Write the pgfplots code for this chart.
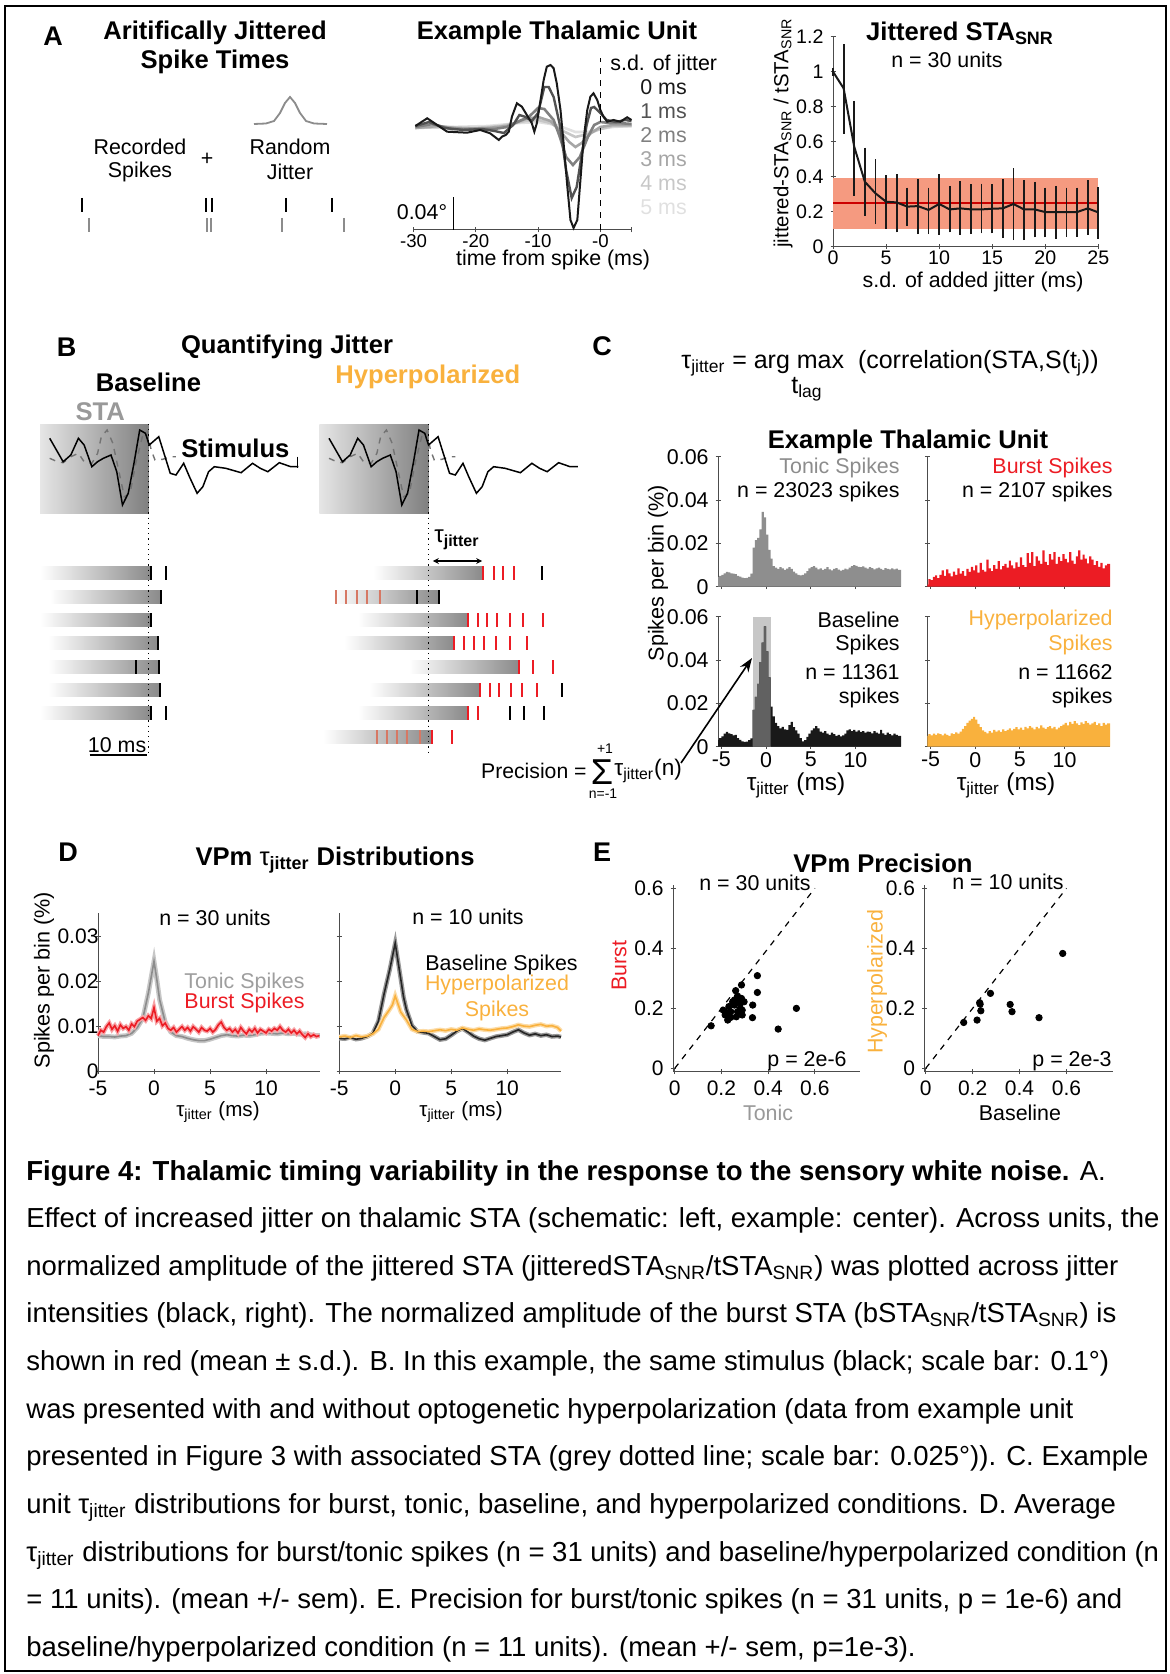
\documentclass[border=0pt]{standalone}
\usepackage{fontspec}
\setmainfont{Liberation Sans}
\usepackage{pgfplots}
\pgfplotsset{compat=1.18}
\usepackage{pgfplotstable}
\usetikzlibrary{arrows.meta}

\definecolor{burst}{HTML}{EC1C24}
\definecolor{hyper}{HTML}{F9B13D}
\definecolor{tonic}{HTML}{8E8E8E}
\definecolor{salmon}{HTML}{F59A80}
\definecolor{barg}{HTML}{8A8A8A}
\definecolor{fadered}{HTML}{D67864}
\newcommand\fs[1]{\fontsize{#1}{#1}\selectfont}

\pgfplotsset{
  base/.style={scale only axis, anchor=south west, clip=false,
    axis line style={-, draw=black!70, line width=0.5pt},
    tick style={draw=black!70, line width=0.5pt},
    major tick length=2.5pt, tick align=inside,
    ticklabel style={font=\fs{10.5}},
    /pgf/number format/assume math mode=true, scaled ticks=false},
  hist/.style={base, axis lines=left, axis line style={-}, clip=true,
    width=91.4pt, height=65pt, xmin=-5.35, xmax=15.1, ymin=0, ymax=0.06,
    ticklabel style={font=\fs{10.7}}, xticklabel style={yshift=2pt},
    xtick={-5,0,5,10}, ytick={0,0.02,0.04,0.06}},
  dist/.style={base, axis lines=left, axis line style={-},
    width=111pt, height=79.35pt, xmin=-5, xmax=14.82, ymin=0, ymax=0.0352,
    yticklabel style={xshift=5pt},
    xtick={-5,0,5,10}, xticklabels={-5,0,5,10}, ytick={0,0.01,0.02,0.03}},
  prec/.style={base, axis lines=left, axis line style={-},
    height=93.35pt, ymin=-0.011, ymax=0.611,
    xtick={0,0.2,0.4,0.6}, xticklabels={0,0.2,0.4,0.6},
    ytick={0,0.2,0.4,0.6}, yticklabels={0,0.2,0.4,0.6}},
}

% panel C histograms, 0.25 ms bins (left edges)
\pgfplotstableread{
x y
-5.5 .0045
-5.25 .0050
-5.0 .0055
-4.75 .0062
-4.5 .0068
-4.25 .0066
-4.0 .0062
-3.75 .0060
-3.5 .0058
-3.25 .0050
-3.0 .0046
-2.75 .0042
-2.5 .0040
-2.25 .0041
-2.0 .0045
-1.75 .0060
-1.5 .0180
-1.25 .0215
-1.0 .0225
-0.75 .0265
-0.5 .0345
-0.25 .0320
0.0 .0240
0.25 .0170
0.5 .0130
0.75 .0095
1.0 .0088
1.25 .0082
1.5 .0090
1.75 .0085
2.0 .0078
2.25 .0084
2.5 .0090
2.75 .0082
3.0 .0070
3.25 .0062
3.5 .0055
3.75 .0052
4.0 .0055
4.25 .0062
4.5 .0072
4.75 .0085
5.0 .0090
5.25 .0095
5.5 .0088
5.75 .0080
6.0 .0085
6.25 .0078
6.5 .0082
6.75 .0090
7.0 .0080
7.25 .0075
7.5 .0082
7.75 .0086
8.0 .0079
8.25 .0074
8.5 .0078
8.75 .0084
9.0 .0080
9.25 .0088
9.5 .0095
9.75 .0100
10.0 .0096
10.25 .0092
10.5 .0090
10.75 .0094
11.0 .0088
11.25 .0084
11.5 .0090
11.75 .0086
12.0 .0080
12.25 .0085
12.5 .0088
12.75 .0082
13.0 .0078
13.25 .0086
13.5 .0082
13.75 .0080
14.0 .0085
14.25 .0080
14.5 .0083
14.75 .0078
15.0 .0078
15.25 .0078
}\tonichist
\pgfplotstableread{
x y
-5.5 .0010
-5.25 .0035
-5.0 .0030
-4.75 .0045
-4.5 .0052
-4.25 .0040
-4.0 .0055
-3.75 .0075
-3.5 .0050
-3.25 .0080
-3.0 .0062
-2.75 .0048
-2.5 .0070
-2.25 .0055
-2.0 .0085
-1.75 .0060
-1.5 .0072
-1.25 .0050
-1.0 .0082
-0.75 .0068
-0.5 .0092
-0.25 .0075
0.0 .0098
0.25 .0065
0.5 .0110
0.75 .0078
1.0 .0070
1.25 .0125
1.5 .0085
1.75 .0072
2.0 .0100
2.25 .0082
2.5 .0118
2.75 .0080
3.0 .0095
3.25 .0105
3.5 .0088
3.75 .0120
4.0 .0098
4.25 .0085
4.5 .0112
4.75 .0092
5.0 .0135
5.25 .0100
5.5 .0090
5.75 .0155
6.0 .0110
6.25 .0160
6.5 .0095
6.75 .0140
7.0 .0120
7.25 .0105
7.5 .0168
7.75 .0115
8.0 .0100
8.25 .0150
8.5 .0125
8.75 .0160
9.0 .0105
9.25 .0138
9.5 .0118
9.75 .0150
10.0 .0128
10.25 .0112
10.5 .0160
10.75 .0120
11.0 .0105
11.25 .0140
11.5 .0168
11.75 .0125
12.0 .0148
12.25 .0130
12.5 .0108
12.75 .0140
13.0 .0125
13.25 .0100
13.5 .0118
13.75 .0092
14.0 .0110
14.25 .0085
14.5 .0098
14.75 .0105
15.0 .0105
15.25 .0105
}\bursthist
\pgfplotstableread{
x y
-5.5 .0032
-5.25 .0040
-5.0 .0048
-4.75 .0060
-4.5 .0068
-4.25 .0062
-4.0 .0058
-3.75 .0052
-3.5 .0055
-3.25 .0040
-3.0 .0032
-2.75 .0025
-2.5 .0022
-2.25 .0024
-2.0 .0030
-1.75 .0038
-1.5 .0170
-1.25 .0230
-1.0 .0290
-0.75 .0390
-0.5 .0480
-0.25 .0555
0.0 .0440
0.25 .0320
0.5 .0185
0.75 .0140
1.0 .0110
1.25 .0095
1.5 .0085
1.75 .0092
2.0 .0080
2.25 .0078
2.5 .0100
2.75 .0115
3.0 .0090
3.25 .0075
3.5 .0060
3.75 .0040
4.0 .0025
4.25 .0030
4.5 .0045
4.75 .0060
5.0 .0075
5.25 .0085
5.5 .0095
5.75 .0085
6.0 .0070
6.25 .0065
6.5 .0072
6.75 .0060
7.0 .0055
7.25 .0065
7.5 .0058
7.75 .0050
8.0 .0055
8.25 .0048
8.5 .0052
8.75 .0060
9.0 .0075
9.25 .0080
9.5 .0072
9.75 .0078
10.0 .0070
10.25 .0075
10.5 .0068
10.75 .0072
11.0 .0065
11.25 .0070
11.5 .0068
11.75 .0062
12.0 .0072
12.25 .0065
12.5 .0060
12.75 .0078
13.0 .0062
13.25 .0055
13.5 .0065
13.75 .0058
14.0 .0052
14.25 .0060
14.5 .0055
14.75 .0050
15.0 .0050
15.25 .0050
}\basehist
\pgfplotstableread{
x y
-5.5 .0050
-5.25 .0058
-5.0 .0052
-4.75 .0060
-4.5 .0055
-4.25 .0062
-4.0 .0058
-3.75 .0052
-3.5 .0060
-3.25 .0055
-3.0 .0050
-2.75 .0062
-2.5 .0058
-2.25 .0066
-2.0 .0060
-1.75 .0070
-1.5 .0082
-1.25 .0095
-1.0 .0110
-0.75 .0120
-0.5 .0128
-0.25 .0138
0.0 .0125
0.25 .0105
0.5 .0090
0.75 .0075
1.0 .0068
1.25 .0062
1.5 .0072
1.75 .0065
2.0 .0078
2.25 .0070
2.5 .0075
2.75 .0068
3.0 .0080
3.25 .0072
3.5 .0078
3.75 .0085
4.0 .0075
4.25 .0082
4.5 .0090
4.75 .0080
5.0 .0088
5.25 .0078
5.5 .0092
5.75 .0085
6.0 .0095
6.25 .0088
6.5 .0080
6.75 .0092
7.0 .0085
7.25 .0098
7.5 .0088
7.75 .0082
8.0 .0090
8.25 .0095
8.5 .0085
8.75 .0092
9.0 .0080
9.25 .0088
9.5 .0095
9.75 .0102
10.0 .0110
10.25 .0098
10.5 .0115
10.75 .0105
11.0 .0118
11.25 .0108
11.5 .0100
11.75 .0112
12.0 .0105
12.25 .0118
12.5 .0110
12.75 .0102
13.0 .0108
13.25 .0115
13.5 .0100
13.75 .0108
14.0 .0095
14.25 .0110
14.5 .0102
14.75 .0108
15.0 .0108
15.25 .0108
}\hyperhist

% panel B stimulus and STA traces (panel B units)
\pgfplotstableread{
x y
43.3 438.3
50 451.7
55 461.7
61.7 455
68.3 438.3
73.3 445
80 466.7
85 461.7
90 458.3
96.7 455
101.7 471.7
106.7 505
111.7 493.3
116.7 463.3
121.7 430
126.7 433.3
130 445
133.3 441.7
138.3 436.7
143.3 455
148.3 473.3
153.3 475
160 463.3
165 476.7
171.7 493.3
176.7 486.7
181.7 471.7
186.7 466.7
196.7 468.3
210 472.7
220 463.3
226.7 468.3
233.3 471.7
243.3 462.7
253.3 466.7
260 466.7
}\stim
\pgfplotstableread{
x y
43.3 458.3
50 461.7
55 462.7
61.7 456.7
68.3 453.3
73.3 461.7
80 463.3
85 453.3
88.3 436.7
93.3 430
98.3 443.3
103.3 470
108.3 496.7
113.3 493.3
118.3 463.3
124 436.7
128.3 431.7
131.7 450
135 460
141.7 459.3
148.3 456.7
153.3 456.7
}\sta

\begin{document}
\begin{tikzpicture}[t/.style={inner sep=0pt}]
\begin{scope}[x=0.5pt,y=-0.5pt]
\useasboundingbox (0,0) rectangle (1169,1674);
\draw[line width=1pt] (5,6) rectangle (1166,1671);
\end{scope}
% B: STA windows and trial bars (background shading), panel B units
\begin{scope}[x=0.574pt,y=-0.5pt]
\shade[left color=black!10, right color=black!50] (35,424) rectangle (129.3,513);
\shade[left color=black!10, right color=black!50] (278.3,424) rectangle (373.3,513);
\foreach \xa/\xb/\yr in {35/131.7/573, 43.3/140/597, 35/131.7/620, 41.7/137.3/643, 41.7/138.3/667, 41.7/139/690, 35/131.7/713,
  325/420.7/573, 290/382.7/597, 311.7/407.3/620, 300/395.7/643, 356/452/667, 321.7/417.7/690, 311.7/407.3/713, 281.7/376.7/737}
  {\shade[left color=white, right color=barg] (\xa,\yr-6.5) rectangle (\xb,\yr+6.5);}
\end{scope}

% ---------- A left schematic (page pixels) ----------
\begin{axis}[at={(0pt,-837pt)}, anchor=south west, scale only axis, width=584.5pt, height=837pt,
  xmin=0, xmax=1169, ymin=0, ymax=1674, y dir=reverse, hide axis, clip=false]
\addplot[black!45, line width=0.9pt] coordinates {(254,124)(266,123.5)(274,121)(280,113)(285,103)(290,97)(295,103)(300,113)(306,121)(314,123.5)(327,124)};
\addplot[only marks, mark=|, mark size=3.5pt, mark options={line width=0.9pt, draw=black}] coordinates {(82,205)(206,205)(212,205)(286,205)(332,205)};
\addplot[only marks, mark=|, mark size=3.5pt, mark options={line width=0.9pt, draw=black!45}] coordinates {(89,225)(207,225)(211,225)(282,225)(344,225)};
\end{axis}

% ---------- B schematic (panel B units) ----------
\begin{axis}[at={(0pt,-390pt)}, anchor=south west, scale only axis, width=344.4pt, height=230pt,
  xmin=0, xmax=600, ymin=320, ymax=780, y dir=reverse, hide axis, clip=false]
\addplot[black!55, dashed, line width=0.7pt] table {\sta};
\addplot[black!55, dashed, line width=0.7pt] table[x expr=\thisrow{x}+243.3] {\sta};
\addplot[black, line width=0.75pt] table {\stim};
\addplot[black, line width=0.75pt] table[x expr=\thisrow{x}+243.3] {\stim};
\addplot[black, line width=0.75pt] coordinates {(259.3,456.7)(259.3,468.3)};
\addplot[black, dotted, line width=0.6pt] coordinates {(129.3,424)(129.3,755)};
\addplot[black, dotted, line width=0.6pt] coordinates {(373.3,424)(373.3,755)};
\addplot[black, line width=0.6pt] coordinates {(78,755)(128,755)};
\addplot[only marks, mark=|, mark size=3.3pt, mark options={line width=1pt, draw=black}] coordinates {
 (131.7,573)(144.3,573)(140,597)(131.7,620)(137.3,643)(118.3,667)(138.3,667)(139,690)(131.7,713)(145,713)};
\addplot[only marks, mark=|, mark size=3.3pt, mark options={line width=1pt, draw=burst}] coordinates {
 (420.7,573)(430,573)(438.3,573)(447.7,573)
 (407.3,620)(416,620)(424.3,620)(433.3,620)(444,620)(456,620)(472.7,620)
 (395.7,643)(404,643)(412.7,643)(421.7,643)(432.3,643)(444,643)(459.3,643)
 (452,667)(464.3,667)(482,667)
 (417.7,690)(426.7,690)(435,690)(445,690)(455,690)(467.7,690)
 (407.3,713)(416.7,713)
 (376.7,737)(393.3,737)};
\addplot[only marks, mark=|, mark size=3.3pt, mark options={line width=1pt, draw=fadered}] coordinates {
 (292.3,597)(301.7,597)(310.7,597)(320,597)(330.7,597)
 (328.3,737)(337.3,737)(345.7,737)(354.3,737)(365.7,737)};
\addplot[only marks, mark=|, mark size=3.3pt, mark options={line width=1pt, draw=black}] coordinates {
 (472,573)(363.3,597)(382.7,597)(489.3,690)(444.3,713)(456.7,713)(474,713)};
\end{axis}

% ---------- A middle: example unit ----------
\begin{axis}[base, at={(206.75pt,-115pt)}, width=109pt, height=87.5pt, xmin=-30, xmax=5, ymin=-105, ymax=70,
  axis x line=bottom, axis y line=none, axis line style={-},
  ticklabel style={font=\fs{9.3}}, xticklabel style={yshift=2.5pt},
  xtick={-30,-20,-10,0,5}, xticklabels={-30,-20,-10,-0,}]
\addplot[black!12, line width=1.3pt] coordinates {(-29.7,-2)(-24,-2)(-18,-1)(-13,2)(-10,3)(-7,0)(-4,-7)(-2,-7)(0,-4)(2,-2)(5,-1)};
\addplot[black!22, line width=1.3pt] coordinates {(-29.7,-3)(-25,-2)(-20,-3)(-16,-1)(-12,4)(-10,5)(-8,2)(-6,-6)(-4,-12)(-2,-9)(0,-4)(2,-1)(5,-1)};
\addplot[black!35, line width=1.3pt] coordinates {(-29.7,-3)(-26,-1)(-22,-4)(-18,-3)(-15,-1)(-12,6)(-10,8)(-8,4)(-6.5,-6)(-5,-17)(-4,-22)(-3,-18)(-1.5,-8)(0,-2)(2,0)(5,0)};
\addplot[black!50, line width=1.3pt] coordinates {(-29.7,-2)(-27,1)(-24,-4)(-20,-4)(-17,-4)(-15,-2)(-13,4)(-11.5,8)(-10,17)(-9,16)(-7.5,5)(-6.5,-12)(-5.5,-32)(-4.4,-40)(-3.3,-32)(-2,-12)(-1,0)(0,3)(1.5,2)(3,2)(5,1)};
\addplot[black!68, line width=1.2pt] coordinates {(-29.7,-1)(-27.5,3)(-25,-3)(-22,-5)(-19,-4)(-17,-6)(-15.5,-8)(-14,0)(-13,10)(-12,8)(-11,4)(-10,12)(-9,38)(-8.3,38)(-7.5,28)(-6.5,0)(-5.5,-45)(-4.6,-73)(-3.8,-62)(-3,-30)(-2.2,0)(-1.5,17)(-1,18)(0,12)(1,5)(2.5,3)(4,5)(5,4)};
\addplot[black!90, line width=1pt] coordinates {(-29.7,-1)(-27.8,6.7)(-26.2,0)(-24.6,-6.7)(-21.4,-7.7)(-19.3,-5)(-17.7,-8.3)(-16.3,-15)(-15.8,-11.7)(-15.2,-10)(-14.7,-6.7)(-14.2,8.3)(-13.4,21.7)(-12.6,18.3)(-11.8,10)(-11,1.7)(-10.6,-6.7)(-10.2,1.7)(-9.6,25)(-9.1,45)(-8.6,58.3)(-8,60)(-7.5,56.7)(-7,41.7)(-6.4,15)(-5.9,-18.3)(-5.3,-61.7)(-4.8,-95)(-4.3,-103)(-3.7,-95)(-3.2,-55)(-2.7,-15)(-2.1,15)(-1.6,28.3)(-1.1,31.7)(-0.5,25)(0,15)(0.5,8.3)(1.1,3.3)(2.1,5)(3.2,3.3)(4.3,7.7)(5,5)};
\addplot[black, dashed, line width=0.7pt] coordinates {(0,-105)(0,67)};
\addplot[black, line width=0.7pt] coordinates {(-23.6,-105)(-23.6,-72)};
\end{axis}

% ---------- A right: jittered STA SNR ----------
\begin{axis}[base, at={(416.5pt,-123.35pt)}, width=132.65pt, height=105pt, xmin=0, xmax=25, ymin=0, ymax=1.2,
  axis lines=left, axis line style={-},
  ticklabel style={font=\fs{9.8}}, xticklabel style={yshift=2.5pt},
  xtick={0,5,10,15,20,25}, xticklabels={0,5,10,15,20,25},
  ytick={0,0.2,0.4,0.6,0.8,1,1.2}, yticklabels={0,0.2,0.4,0.6,0.8,1,1.2}]
\addplot[fill=salmon, draw=none] coordinates {(0,0.1)(25,0.1)(25,0.395)(0,0.395)} -- cycle;
\addplot[red!80!black, line width=0.6pt] coordinates {(0,0.25)(25,0.25)};
\addplot[black!90, line width=1pt, error bars/.cd, y dir=both, y explicit,
  error bar style={line width=0.9pt}, error mark options={line width=0.9pt, mark size=2pt}]
  coordinates {
  (0,1.0) += (0,0) -= (0,0)
  (1,0.905) += (0,0.228) -= (0,0.238)
  (2,0.571) += (0,0.239) -= (0,0.257)
  (3,0.371) += (0,0.172) -= (0,0.171)
  (4,0.305) += (0,0.171) -= (0,0.153)
  (5,0.257) += (0,0.128) -= (0,0.133)
  (6,0.253) += (0,0.137) -= (0,0.148)
  (7,0.229) += (0,0.085) -= (0,0.086)
  (8,0.232) += (0,0.130) -= (0,0.137)
  (9,0.210) += (0,0.104) -= (0,0.115)
  (10,0.244) += (0,0.146) -= (0,0.154)
  (11,0.213) += (0,0.111) -= (0,0.108)
  (12,0.219) += (0,0.133) -= (0,0.128)
  (13,0.213) += (0,0.120) -= (0,0.118)
  (14,0.213) += (0,0.124) -= (0,0.114)
  (15,0.217) += (0,0.116) -= (0,0.118)
  (16,0.219) += (0,0.143) -= (0,0.147)
  (17,0.244) += (0,0.181) -= (0,0.183)
  (18,0.213) += (0,0.145) -= (0,0.152)
  (19,0.213) += (0,0.134) -= (0,0.137)
  (20,0.198) += (0,0.116) -= (0,0.122)
  (21,0.198) += (0,0.126) -= (0,0.131)
  (22,0.198) += (0,0.116) -= (0,0.118)
  (23,0.198) += (0,0.116) -= (0,0.118)
  (24,0.219) += (0,0.137) -= (0,0.128)
  (25,0.196) += (0,0.122) -= (0,0.129)
  };
\end{axis}

% ---------- C: example unit histograms ----------
\begin{axis}[hist, at={(359.1pt,-293.35pt)}, xticklabels={}, yticklabels={0,0.02,0.04,0.06}]
\addplot[const plot, fill=tonic, draw=none] table {\tonichist} \closedcycle;
\end{axis}
\begin{axis}[hist, at={(463.7pt,-293.35pt)}, xticklabels={}, yticklabels={}]
\addplot[const plot, fill=burst, draw=none] table {\bursthist} \closedcycle;
\end{axis}
\begin{axis}[hist, at={(359.1pt,-373.35pt)}, xticklabels={-5,0,5,10}, yticklabels={0,0.02,0.04,0.06}]
\addplot[fill=black!22, draw=none] coordinates {(-1.5,0)(-1.5,0.06)(0.5,0.06)(0.5,0)} -- cycle;
\addplot[const plot, fill=black!90, draw=none] table {\basehist} \closedcycle;
\addplot[const plot, fill=black!62, draw=none, restrict x to domain=-1.5:0.5] table {\basehist} \closedcycle;
\end{axis}
\begin{axis}[hist, at={(463.7pt,-373.35pt)}, xticklabels={-5,0,5,10}, yticklabels={}]
\addplot[const plot, fill=hyper, draw=none] table {\hyperhist} \closedcycle;
\end{axis}

% ---------- D: population distributions ----------
\begin{axis}[dist, at={(49pt,-535.85pt)}, yticklabels={0,0.01,0.02,0.03}]
\addplot[black!22, line width=2.4pt] coordinates {(-5,.0080)(-4.5,.0078)(-4,.0078)(-3.5,.0077)(-3,.0079)(-2.5,.0080)(-2,.0085)(-1.5,.0098)(-1,.0118)(-0.5,.0175)(-0.25,.0210)(0,.0245)(0.25,.0205)(0.5,.0160)(1,.0110)(1.5,.0088)(2,.0080)(2.5,.0078)(3,.0074)(3.5,.0071)(4,.0069)(4.5,.0069)(5,.0072)(5.5,.0076)(6,.0080)(6.5,.0082)(7,.0080)(7.5,.0079)(8,.0081)(8.5,.0080)(9,.0082)(9.5,.0085)(10,.0086)(10.5,.0085)(11,.0084)(11.5,.0086)(12,.0084)(12.5,.0085)(13,.0083)(13.5,.0084)(14,.0082)(14.5,.0080)(14.8,.0080)};
\addplot[black!45, line width=0.8pt] coordinates {(-5,.0080)(-4.5,.0078)(-4,.0078)(-3.5,.0077)(-3,.0079)(-2.5,.0080)(-2,.0085)(-1.5,.0098)(-1,.0118)(-0.5,.0175)(-0.25,.0210)(0,.0245)(0.25,.0205)(0.5,.0160)(1,.0110)(1.5,.0088)(2,.0080)(2.5,.0078)(3,.0074)(3.5,.0071)(4,.0069)(4.5,.0069)(5,.0072)(5.5,.0076)(6,.0080)(6.5,.0082)(7,.0080)(7.5,.0079)(8,.0081)(8.5,.0080)(9,.0082)(9.5,.0085)(10,.0086)(10.5,.0085)(11,.0084)(11.5,.0086)(12,.0084)(12.5,.0085)(13,.0083)(13.5,.0084)(14,.0082)(14.5,.0080)(14.8,.0080)};
\addplot[burst!40, line width=2.2pt] coordinates {(-5,.0080)(-4.75,.0092)(-4.5,.0088)(-4.25,.0100)(-4,.0108)(-3.75,.0094)(-3.5,.0102)(-3.25,.0090)(-3,.0104)(-2.75,.0096)(-2.5,.0100)(-2.25,.0092)(-2,.0106)(-1.75,.0100)(-1.5,.0112)(-1.25,.0116)(-1,.0120)(-0.75,.0114)(-0.5,.0124)(-0.25,.0118)(0,.0142)(0.25,.0112)(0.5,.0118)(0.75,.0102)(1,.0108)(1.25,.0096)(1.5,.0092)(1.75,.0098)(2,.0088)(2.25,.0094)(2.5,.0100)(2.75,.0092)(3,.0098)(3.25,.0090)(3.5,.0100)(3.75,.0094)(4,.0088)(4.25,.0098)(4.5,.0092)(4.75,.0090)(5,.0096)(5.25,.0088)(5.5,.0094)(5.75,.0104)(6,.0110)(6.25,.0098)(6.5,.0092)(6.75,.0096)(7,.0088)(7.25,.0094)(7.5,.0086)(7.75,.0098)(8,.0090)(8.25,.0084)(8.5,.0094)(8.75,.0088)(9,.0096)(9.25,.0086)(9.5,.0094)(9.75,.0090)(10,.0086)(10.25,.0094)(10.5,.0090)(10.75,.0096)(11,.0092)(11.25,.0100)(11.5,.0092)(11.75,.0088)(12,.0094)(12.25,.0086)(12.5,.0092)(12.75,.0084)(13,.0090)(13.25,.0082)(13.5,.0076)(13.75,.0084)(14,.0078)(14.25,.0082)(14.5,.0078)(14.75,.0080)};
\addplot[burst, line width=0.8pt] coordinates {(-5,.0080)(-4.75,.0092)(-4.5,.0088)(-4.25,.0100)(-4,.0108)(-3.75,.0094)(-3.5,.0102)(-3.25,.0090)(-3,.0104)(-2.75,.0096)(-2.5,.0100)(-2.25,.0092)(-2,.0106)(-1.75,.0100)(-1.5,.0112)(-1.25,.0116)(-1,.0120)(-0.75,.0114)(-0.5,.0124)(-0.25,.0118)(0,.0142)(0.25,.0112)(0.5,.0118)(0.75,.0102)(1,.0108)(1.25,.0096)(1.5,.0092)(1.75,.0098)(2,.0088)(2.25,.0094)(2.5,.0100)(2.75,.0092)(3,.0098)(3.25,.0090)(3.5,.0100)(3.75,.0094)(4,.0088)(4.25,.0098)(4.5,.0092)(4.75,.0090)(5,.0096)(5.25,.0088)(5.5,.0094)(5.75,.0104)(6,.0110)(6.25,.0098)(6.5,.0092)(6.75,.0096)(7,.0088)(7.25,.0094)(7.5,.0086)(7.75,.0098)(8,.0090)(8.25,.0084)(8.5,.0094)(8.75,.0088)(9,.0096)(9.25,.0086)(9.5,.0094)(9.75,.0090)(10,.0086)(10.25,.0094)(10.5,.0090)(10.75,.0096)(11,.0092)(11.25,.0100)(11.5,.0092)(11.75,.0088)(12,.0094)(12.25,.0086)(12.5,.0092)(12.75,.0084)(13,.0090)(13.25,.0082)(13.5,.0076)(13.75,.0084)(14,.0078)(14.25,.0082)(14.5,.0078)(14.75,.0080)};
\end{axis}
\begin{axis}[dist, at={(169.6pt,-535.85pt)}, yticklabels={}]
\addplot[black!40, line width=2.2pt] coordinates {(-5,.0074)(-4.5,.0073)(-4,.0076)(-3.5,.0072)(-3,.0074)(-2.5,.0078)(-2,.0085)(-1.5,.0112)(-1,.0172)(-0.5,.0225)(-0.25,.0255)(0,.0285)(0.25,.0245)(0.5,.0205)(0.75,.0165)(1,.0138)(1.5,.0102)(2,.0089)(2.5,.0087)(3,.0085)(3.5,.0078)(4,.0071)(4.5,.0073)(5,.0081)(5.5,.0090)(6,.0096)(6.5,.0088)(7,.0079)(7.5,.0073)(8,.0070)(8.5,.0074)(9,.0078)(9.5,.0080)(10,.0082)(10.5,.0088)(11,.0093)(11.5,.0086)(12,.0081)(12.5,.0084)(13,.0080)(13.5,.0082)(14,.0078)(14.5,.0079)(14.8,.0077)};
\addplot[hyper!45, line width=2.2pt] coordinates {(-5,.0077)(-4.5,.0079)(-4,.0076)(-3.5,.0080)(-3,.0077)(-2.5,.0079)(-2,.0084)(-1.5,.0094)(-1,.0120)(-0.5,.0138)(-0.25,.0148)(0,.0168)(0.25,.0150)(0.5,.0132)(1,.0115)(1.5,.0094)(2,.0089)(2.5,.0090)(3,.0089)(3.5,.0091)(4,.0093)(4.5,.0091)(5,.0094)(5.5,.0092)(6,.0097)(6.5,.0094)(7,.0092)(7.5,.0095)(8,.0093)(8.5,.0092)(9,.0094)(9.5,.0096)(10,.0097)(10.5,.0100)(11,.0104)(11.5,.0101)(12,.0100)(12.5,.0103)(13,.0105)(13.5,.0101)(14,.0102)(14.5,.0098)(14.8,.0090)};
\addplot[black!85, line width=0.8pt] coordinates {(-5,.0074)(-4.5,.0073)(-4,.0076)(-3.5,.0072)(-3,.0074)(-2.5,.0078)(-2,.0085)(-1.5,.0112)(-1,.0172)(-0.5,.0225)(-0.25,.0255)(0,.0285)(0.25,.0245)(0.5,.0205)(0.75,.0165)(1,.0138)(1.5,.0102)(2,.0089)(2.5,.0087)(3,.0085)(3.5,.0078)(4,.0071)(4.5,.0073)(5,.0081)(5.5,.0090)(6,.0096)(6.5,.0088)(7,.0079)(7.5,.0073)(8,.0070)(8.5,.0074)(9,.0078)(9.5,.0080)(10,.0082)(10.5,.0088)(11,.0093)(11.5,.0086)(12,.0081)(12.5,.0084)(13,.0080)(13.5,.0082)(14,.0078)(14.5,.0079)(14.8,.0077)};
\addplot[hyper, line width=0.8pt] coordinates {(-5,.0077)(-4.5,.0079)(-4,.0076)(-3.5,.0080)(-3,.0077)(-2.5,.0079)(-2,.0084)(-1.5,.0094)(-1,.0120)(-0.5,.0138)(-0.25,.0148)(0,.0168)(0.25,.0150)(0.5,.0132)(1,.0115)(1.5,.0094)(2,.0089)(2.5,.0090)(3,.0089)(3.5,.0091)(4,.0093)(4.5,.0091)(5,.0094)(5.5,.0092)(6,.0097)(6.5,.0094)(7,.0092)(7.5,.0095)(8,.0093)(8.5,.0092)(9,.0094)(9.5,.0096)(10,.0097)(10.5,.0100)(11,.0104)(11.5,.0101)(12,.0100)(12.5,.0103)(13,.0105)(13.5,.0101)(14,.0102)(14.5,.0098)(14.8,.0090)};
\end{axis}

% ---------- E: precision scatter ----------
\begin{axis}[prec, at={(336.6pt,-535.85pt)}, width=93.35pt, xmin=-0.0064, xmax=0.793]
\addplot[black, dashed, line width=0.6pt] coordinates {(0,0)(0.6,0.6)};
\addplot[only marks, mark=*, mark size=1.6pt, black] coordinates {
 (.156,.142)(.208,.194)(.216,.178)(.227,.161)(.232,.206)(.240,.189)(.248,.222)(.256,.211)(.264,.172)(.240,.170)
 (.221,.186)(.261,.259)(.286,.278)(.273,.228)(.281,.200)(.289,.178)(.286,.233)(.269,.241)(.256,.228)(.281,.217)
 (.289,.194)(.354,.309)(.354,.253)(.334,.211)(.333,.169)(.443,.131)(.521,.200)(.232,.172)(.269,.189)(.297,.222)};
\end{axis}
\begin{axis}[prec, at={(462.25pt,-535.85pt)}, width=94.45pt, xmin=-0.005, xmax=0.8]
\addplot[black, dashed, line width=0.6pt] coordinates {(0,0)(0.6,0.6)};
\addplot[only marks, mark=*, mark size=1.6pt, black] coordinates {
 (.162,.153)(.219,.161)(.232,.214)(.235,.192)(.276,.250)(.360,.213)(.368,.189)(.483,.169)(.584,.383)(.230,.219)};
\end{axis}

% ---------- text: panel B (panel B units) ----------
\begin{scope}[x=0.574pt,y=-0.5pt]
\draw[{Stealth[length=3pt,width=3pt]}-{Stealth[length=3pt,width=3pt]}, line width=0.6pt] (377,561) -- (420,561);
\node[t, font=\fs{13.5}\bfseries] at (58,347) {B};
\node[t, font=\fs{12.8}\bfseries] at (250,347) {Quantifying Jitter};
\node[t, font=\fs{12.8}\bfseries] at (129.3,382) {Baseline};
\node[t, font=\fs{12.8}\bfseries, text=hyper] at (372.7,377) {Hyperpolarized};
\node[t, font=\fs{12.8}\bfseries, text=black!40] at (87.3,412) {STA};
\node[t, font=\fs{12.8}\bfseries] at (205,448) {Stimulus};
\node[t, font=\fs{10.7}] at (102,745) {10 ms};
\node[t, font=\fs{12}, anchor=west] at (378,540) {τ\textsubscript{\textbf{jitter}}};
\end{scope}

\begin{scope}[x=0.5pt,y=-0.5pt]
\draw[-{Stealth[length=7pt,width=5pt]}, line width=0.8pt] (681,763) -- (752,658);
% ---------- text: panel A ----------
\node[t, font=\fs{13.5}\bfseries] at (53,36) {A};
\node[t, font=\fs{12.8}\bfseries] at (215,33) {Aritifically Jittered};
\node[t, font=\fs{12.8}\bfseries] at (215,62) {Spike Times};
\node[t, font=\fs{10.7}] at (140,147) {Recorded};
\node[t, font=\fs{10.7}] at (140,172) {Spikes};
\node[t, font=\fs{10.7}] at (207,159) {+};
\node[t, font=\fs{10.7}] at (290,147) {Random};
\node[t, font=\fs{10.7}] at (290,172) {Jitter};
\node[t, font=\fs{12.8}\bfseries] at (557,33) {Example Thalamic Unit};
\node[t, font=\fs{10.7}, anchor=west] at (610,65) {s.d. of jitter};
\foreach \k/\c in {0/black!90, 1/black!68, 2/black!50, 3/black!35, 4/black!22, 5/black!12}
  {\node[t, font=\fs{10.7}, anchor=west, text=\c] at (640,87+24*\k) {\k\ ms};}
\node[t, font=\fs{10.7}] at (422,212) {0.04°};
\node[t, font=\fs{10.7}] at (553,260) {time from spike (ms)};
\node[t, font=\fs{12.8}\bfseries] at (960,33) {Jittered STA\textsubscript{SNR}};
\node[t, font=\fs{10.7}] at (947,60) {n = 30 units};
\node[t, font=\fs{10.2}, rotate=90] at (783,133) {jittered-STA\textsubscript{SNR} / tSTA\textsubscript{SNR}};
\node[t, font=\fs{10.7}] at (973,282) {s.d. of added jitter (ms)};
% ---------- text: precision formula ----------
\node[t, font=\fs{10.6}, anchor=east] at (587,771) {Precision =};
\node[t, font=\fs{18}] at (602,772) {Σ};
\node[t, font=\fs{7}] at (605,749) {+1};
\node[t, font=\fs{7}] at (603,794) {n=-1};
\node[t, font=\fs{11.3}, anchor=west] at (614,771) {τ\textsubscript{jitter}(n)};
% ---------- text: panel C ----------
\node[t, font=\fs{13.5}\bfseries] at (602,346) {C};
\node[t, font=\fs{12.5}, anchor=west] at (681,363) {τ\textsubscript{jitter} = arg max~~(correlation(STA,S(t\textsubscript{j}))};
\node[t, font=\fs{12.5}] at (807,389) {t\textsubscript{lag}};
\node[t, font=\fs{12.8}\bfseries] at (908,442) {Example Thalamic Unit};
\node[t, font=\fs{10.8}, rotate=90] at (658,573) {Spikes per bin (\%)};
\node[t, font=\fs{10.7}, anchor=east, text=black!45] at (900,468) {Tonic Spikes};
\node[t, font=\fs{10.7}, anchor=east] at (900,492) {n = 23023 spikes};
\node[t, font=\fs{10.7}, anchor=east, text=burst] at (1113,468) {Burst Spikes};
\node[t, font=\fs{10.7}, anchor=east] at (1113,492) {n = 2107 spikes};
\node[t, font=\fs{10.7}, anchor=east] at (900,620) {Baseline};
\node[t, font=\fs{10.7}, anchor=east] at (900,645) {Spikes};
\node[t, font=\fs{10.7}, anchor=east] at (900,672) {n = 11361};
\node[t, font=\fs{10.7}, anchor=east] at (900,698) {spikes};
\node[t, font=\fs{10.7}, anchor=east, text=hyper] at (1113,620) {Hyperpolarized};
\node[t, font=\fs{10.7}, anchor=east, text=hyper] at (1113,645) {Spikes};
\node[t, font=\fs{10.7}, anchor=east] at (1113,672) {n = 11662};
\node[t, font=\fs{10.7}, anchor=east] at (1113,698) {spikes};
\node[t, font=\fs{12.2}] at (796,785) {τ\textsubscript{jitter} (ms)};
\node[t, font=\fs{12.2}] at (1006,785) {τ\textsubscript{jitter} (ms)};
% ---------- text: panel D ----------
\node[t, font=\fs{13.5}\bfseries] at (68,852) {D};
\node[t, font=\fs{12.8}] at (335,860) {\textbf{VPm} τ\textsubscript{\textbf{jitter}} \textbf{Distributions}};
\node[t, font=\fs{10.8}, rotate=90] at (44,980) {Spikes per bin (\%)};
\node[t, font=\fs{10.7}] at (215,918) {n = 30 units};
\node[t, font=\fs{10.7}, anchor=east, text=black!38] at (305,983) {Tonic Spikes};
\node[t, font=\fs{10.7}, anchor=east, text=burst] at (305,1003) {Burst Spikes};
\node[t, font=\fs{10.7}] at (468,917) {n = 10 units};
\node[t, font=\fs{10.7}, anchor=west] at (425,965) {Baseline Spikes};
\node[t, font=\fs{10.7}, text=hyper] at (497,985) {Hyperpolarized};
\node[t, font=\fs{10.7}, text=hyper] at (497,1011) {Spikes};
\node[t, font=\fs{10.3}] at (218,1112) {τ\textsubscript{jitter} (ms)};
\node[t, font=\fs{10.3}] at (461,1112) {τ\textsubscript{jitter} (ms)};
% ---------- text: panel E ----------
\node[t, font=\fs{13.5}\bfseries] at (602,852) {E};
\node[t, font=\fs{12.8}\bfseries] at (883,863) {VPm Precision};
\node[t, font=\fs{10.7}] at (755,883) {n = 30 units};
\node[t, font=\fs{10.7}] at (807,1061) {p = 2e-6};
\node[t, font=\fs{10.7}, rotate=90, text=burst] at (619,966) {Burst};
\node[t, font=\fs{10.7}, text=black!40] at (768,1113) {Tonic};
\node[t, font=\fs{10.7}] at (1008,882) {n = 10 units};
\node[t, font=\fs{10.7}] at (1072,1061) {p = 2e-3};
\node[t, font=\fs{10.7}, rotate=90, text=hyper] at (877,982) {Hyperpolarized};
\node[t, font=\fs{10.7}] at (1020,1113) {Baseline};
% ---------- caption ----------
\begin{scope}[every node/.style={t, anchor=base west, font=\fs{13.75}}]
\node at (26,1180) {\textbf{Figure 4: Thalamic timing variability in the response to the sensory white noise.} A.};
\node at (26,1227) {Effect of increased jitter on thalamic STA (schematic: left, example: center). Across units, the};
\node at (26,1275) {normalized amplitude of the jittered STA (jitteredSTA\textsubscript{SNR}/tSTA\textsubscript{SNR}) was plotted across jitter};
\node at (26,1322) {intensities (black, right). The normalized amplitude of the burst STA (bSTA\textsubscript{SNR}/tSTA\textsubscript{SNR}) is};
\node at (26,1370) {shown in red (mean ± s.d.). B. In this example, the same stimulus (black; scale bar: 0.1°)};
\node at (26,1418) {was presented with and without optogenetic hyperpolarization (data from example unit};
\node at (26,1465) {presented in Figure 3 with associated STA (grey dotted line; scale bar: 0.025°)). C. Example};
\node at (26,1513) {unit τ\textsubscript{jitter} distributions for burst, tonic, baseline, and hyperpolarized conditions. D. Average};
\node at (26,1561) {τ\textsubscript{jitter} distributions for burst/tonic spikes (n = 31 units) and baseline/hyperpolarized condition (n};
\node at (26,1608) {= 11 units). (mean +/- sem). E. Precision for burst/tonic spikes (n = 31 units, p = 1e-6) and};
\node at (26,1656) {baseline/hyperpolarized condition (n = 11 units). (mean +/- sem, p=1e-3).};
\end{scope}
\end{scope}
\end{tikzpicture}
\end{document}
